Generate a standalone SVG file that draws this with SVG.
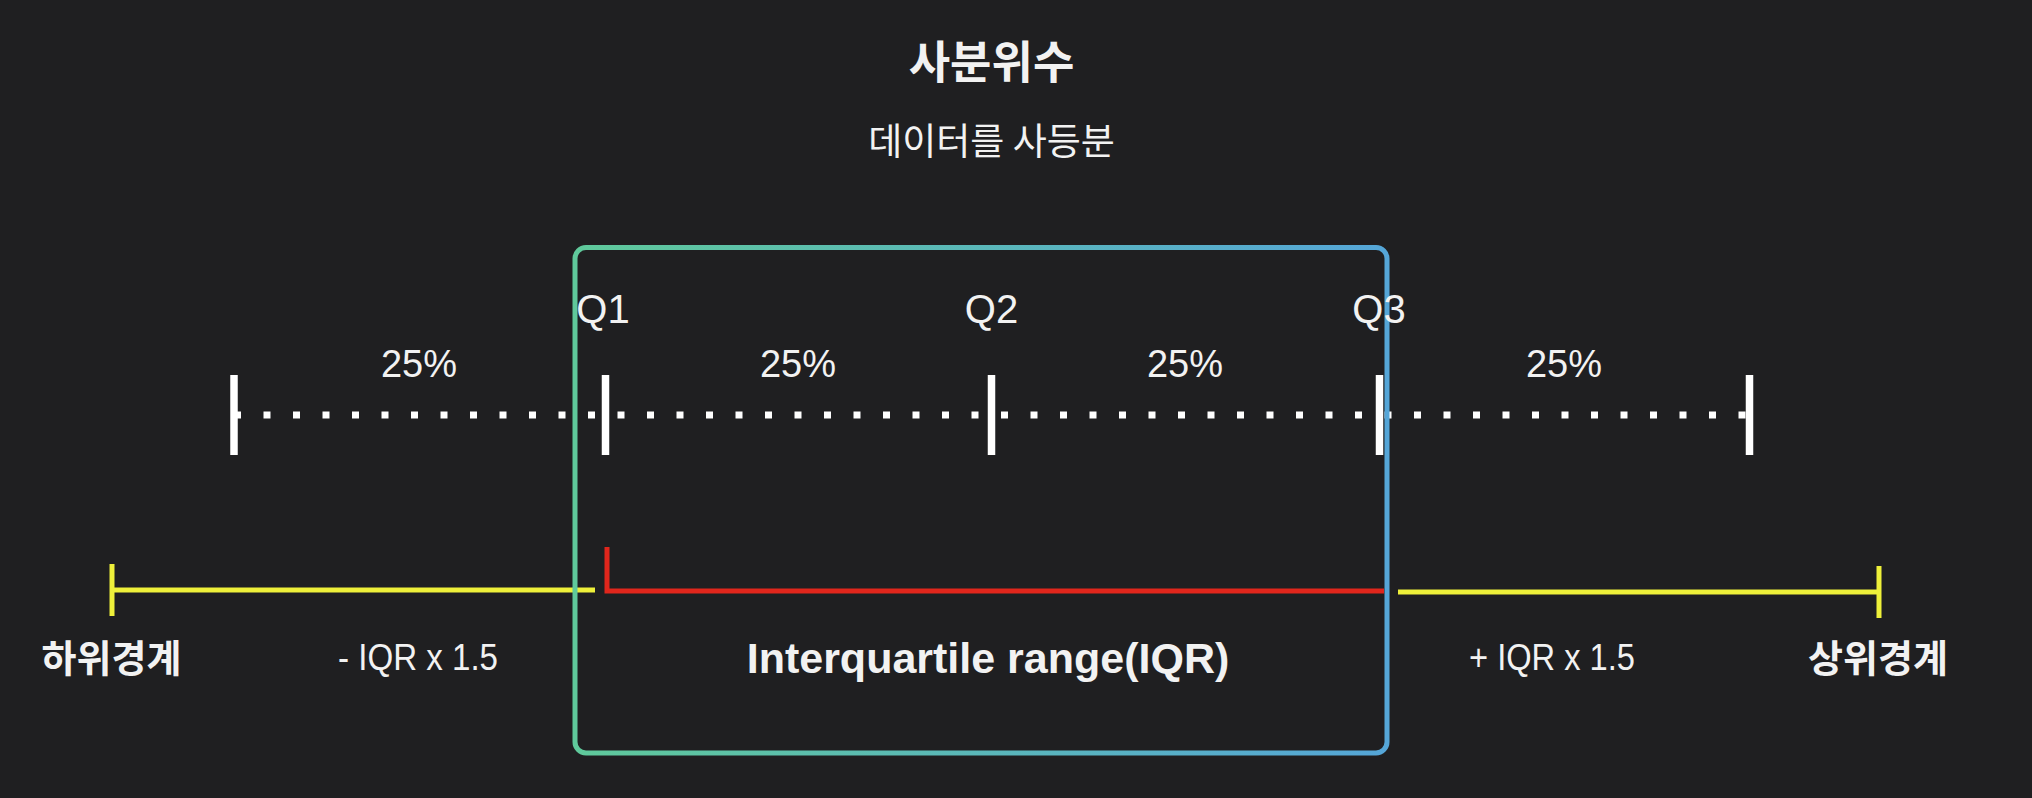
<svg xmlns="http://www.w3.org/2000/svg" width="2032" height="798" viewBox="0 0 2032 798">
<defs>
<linearGradient id="boxgrad" x1="0" y1="0" x2="1" y2="0">
<stop offset="0" stop-color="#5fc99b"/>
<stop offset="1" stop-color="#55a6d8"/>
</linearGradient>
<style>
.kr{font-family:"Noto Sans CJK KR","Noto Sans",sans-serif;fill:#f2f2f2}
.en{font-family:"Liberation Sans",Arial,sans-serif;fill:#f2f2f2}
.tick{stroke:#ffffff;stroke-width:7.5}
.yel{stroke:#eef03a;stroke-width:5;fill:none}
</style>
</defs>
<rect width="2032" height="798" fill="#1f1f21"/>
<g id="title">
<text class="kr" x="991.5" y="79" font-size="45" font-weight="700" text-anchor="middle">사분위수</text>
<text class="kr" x="991.5" y="155" font-size="37" text-anchor="middle">데이터를 사등분</text>
</g>
<g id="connectors">
<line x1="234" y1="415" x2="1750" y2="415" stroke="#ffffff" stroke-width="7" stroke-dasharray="7 22.5"/>
<path class="yel" d="M112 564 V616 M112 590 H595"/>
<path class="yel" d="M1879 566 V618 M1879 592 H1398"/>
<path d="M607 547 V591 H1384" fill="none" stroke="#e0261c" stroke-width="5"/>
</g>
<g id="ticks">
<line class="tick" x1="234" y1="375" x2="234" y2="455"/>
<line class="tick" x1="605.5" y1="375" x2="605.5" y2="455"/>
<line class="tick" x1="991.5" y1="375" x2="991.5" y2="455"/>
<line class="tick" x1="1379.5" y1="375" x2="1379.5" y2="455"/>
<line class="tick" x1="1749.5" y1="375" x2="1749.5" y2="455"/>
</g>
<g id="iqr-box">
<rect x="575" y="247.5" width="812" height="505.5" rx="11" fill="none" stroke="url(#boxgrad)" stroke-width="5"/>
</g>
<g id="q-labels">
<text class="en" x="603" y="322.5" font-size="40" text-anchor="middle">Q1</text>
<text class="en" x="991.5" y="322.5" font-size="40" text-anchor="middle">Q2</text>
<text class="en" x="1379" y="322.5" font-size="40" text-anchor="middle">Q3</text>
</g>
<g id="pct-labels">
<text class="en" x="419" y="376.5" font-size="38" text-anchor="middle">25%</text>
<text class="en" x="798" y="376.5" font-size="38" text-anchor="middle">25%</text>
<text class="en" x="1185" y="376.5" font-size="38" text-anchor="middle">25%</text>
<text class="en" x="1564" y="376.5" font-size="38" text-anchor="middle">25%</text>
</g>
<g id="lower-bound">
<text class="kr" x="111.5" y="672" font-size="38" font-weight="700" text-anchor="middle">하위경계</text>
<text class="en" x="418" y="670" font-size="36" text-anchor="middle" textLength="160" lengthAdjust="spacingAndGlyphs">- IQR x 1.5</text>
</g>
<g id="iqr-label">
<text class="en" x="988" y="673" font-size="43" font-weight="700" text-anchor="middle">Interquartile range(IQR)</text>
</g>
<g id="upper-bound">
<text class="en" x="1552" y="669.5" font-size="36" text-anchor="middle" textLength="166" lengthAdjust="spacingAndGlyphs">+ IQR x 1.5</text>
<text class="kr" x="1878" y="672" font-size="38" font-weight="700" text-anchor="middle">상위경계</text>
</g>
</svg>
